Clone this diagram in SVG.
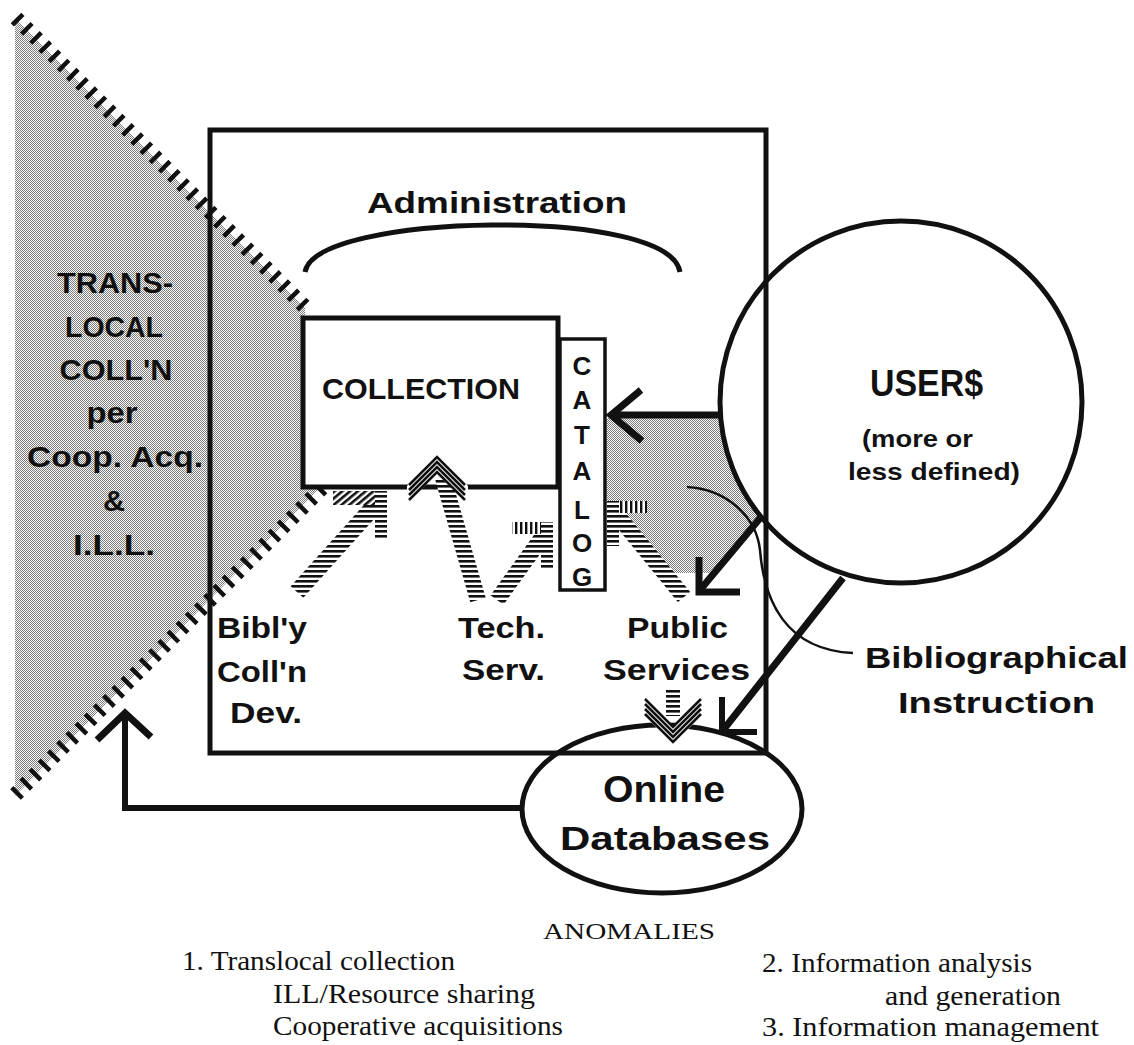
<svg xmlns="http://www.w3.org/2000/svg" width="1134" height="1045" viewBox="0 0 1134 1045">
<style>
.ln{fill:none;stroke:#111;stroke-linejoin:miter}
.t{font-family:"Liberation Sans",Arial,sans-serif;font-weight:bold;fill:#111}
.s{font-family:"Liberation Serif","Times New Roman",serif;fill:#111}
.hatch{fill:none;stroke:#111;stroke-width:15;stroke-dasharray:4.5 8.5}
.nest{fill:none;stroke:#111;stroke-width:2.6}
</style>
<defs>
<pattern id="dot" width="2" height="2" patternUnits="userSpaceOnUse"><rect width="2" height="2" fill="#fff"/><rect width="1" height="1" fill="#7a7a7a"/><rect x="1" y="1" width="1" height="1" fill="#7a7a7a"/></pattern>
<pattern id="hs" width="5" height="5" patternUnits="userSpaceOnUse"><rect width="5" height="5" fill="#fff"/><rect width="5" height="2.6" fill="#111"/></pattern>
<pattern id="vs" width="5" height="5" patternUnits="userSpaceOnUse"><rect width="5" height="5" fill="#fff"/><rect width="2.4" height="5" fill="#111"/></pattern>
<pattern id="ds" width="5" height="5" patternUnits="userSpaceOnUse" patternTransform="rotate(-40)"><rect width="5" height="5" fill="#fff"/><rect width="5" height="2.6" fill="#111"/></pattern>
</defs>

<!-- shaded regions -->
<g id="translocal">
<polygon points="15,18 305,308 305,488 320,488 15,796" fill="url(#dot)"/>
</g>
<g id="users-shade">
<path d="M607,418 L720,418 A181,181 0 0 0 761,517 L713,573 L660,573 L607,505 Z" fill="url(#dot)"/>
</g>

<!-- library frame -->
<g id="library"><rect x="210" y="130" width="556" height="623" class="ln" stroke-width="5"/></g>

<!-- hatched boundary of translocal collection -->
<g id="translocal-edge">
<line x1="16" y1="18" x2="308" y2="310" class="hatch"/>
<line x1="322" y1="488" x2="14" y2="796" class="hatch"/>
</g>

<g id="translocal-label" class="t" font-size="30" text-anchor="middle">
<text x="115" y="293" textLength="116" lengthAdjust="spacingAndGlyphs">TRANS-</text>
<text x="114" y="337" textLength="98" lengthAdjust="spacingAndGlyphs">LOCAL</text>
<text x="116" y="380" textLength="113" lengthAdjust="spacingAndGlyphs">COLL'N</text>
<text x="112" y="423" textLength="51" lengthAdjust="spacingAndGlyphs">per</text>
<text x="115" y="467" textLength="176" lengthAdjust="spacingAndGlyphs">Coop. Acq.</text>
<text x="114" y="511" textLength="22" lengthAdjust="spacingAndGlyphs">&amp;</text>
<text x="114" y="555" textLength="82" lengthAdjust="spacingAndGlyphs">I.L.L.</text>
</g>

<g id="administration">
<path d="M305,272 C310,242 400,226 492,225 C590,224 675,240 680,272" class="ln" stroke-width="5"/>
<text x="367" y="213" class="t" font-size="30" textLength="260" lengthAdjust="spacingAndGlyphs">Administration</text>
</g>

<g id="collection">
<rect x="303" y="318" width="255" height="169" fill="#fff" stroke="#111" stroke-width="5"/>
<text x="322" y="399" class="t" font-size="30" textLength="198" lengthAdjust="spacingAndGlyphs">COLLECTION</text>
</g>

<g id="catalog">
<rect x="560" y="339" width="45" height="251" fill="#fff" stroke="#111" stroke-width="3.5"/>
<g class="t" font-size="26" text-anchor="middle">
<text x="582" y="375">C</text><text x="582" y="409">A</text><text x="582" y="444">T</text><text x="582" y="480">A</text><text x="582" y="519">L</text><text x="582" y="552">O</text><text x="582" y="586">G</text>
</g>
</g>

<g id="users">
<circle cx="901" cy="402" r="181" class="ln" stroke-width="5"/>
<text x="870" y="396" class="t" font-size="37" textLength="113" lengthAdjust="spacingAndGlyphs">USER$</text>
<text x="862" y="447" class="t" font-size="24" textLength="111" lengthAdjust="spacingAndGlyphs">(more or</text>
<text x="848" y="480" class="t" font-size="24" textLength="172" lengthAdjust="spacingAndGlyphs">less defined)</text>
</g>

<g id="online-databases">
<ellipse cx="662" cy="809" rx="140" ry="84" class="ln" stroke-width="5"/>
<text x="603" y="802" class="t" font-size="36" textLength="122" lengthAdjust="spacingAndGlyphs">Online</text>
<text x="560" y="850" class="t" font-size="33" textLength="210" lengthAdjust="spacingAndGlyphs">Databases</text>
</g>

<g id="bibliography-dev">
<text x="217" y="638" class="t" font-size="29" textLength="90" lengthAdjust="spacingAndGlyphs">Bibl'y</text>
<text x="217" y="682" class="t" font-size="29" textLength="90" lengthAdjust="spacingAndGlyphs">Coll'n</text>
<text x="230" y="723" class="t" font-size="29" textLength="72" lengthAdjust="spacingAndGlyphs">Dev.</text>
</g>
<g id="tech-serv">
<text x="458" y="638" class="t" font-size="29" textLength="87" lengthAdjust="spacingAndGlyphs">Tech.</text>
<text x="462" y="680" class="t" font-size="29" textLength="83" lengthAdjust="spacingAndGlyphs">Serv.</text>
</g>
<g id="public-services">
<text x="627" y="638" class="t" font-size="29" textLength="101" lengthAdjust="spacingAndGlyphs">Public</text>
<text x="603" y="680" class="t" font-size="29" textLength="147" lengthAdjust="spacingAndGlyphs">Services</text>
</g>
<g id="bibliographical-instruction">
<text x="865" y="668" class="t" font-size="29" textLength="263" lengthAdjust="spacingAndGlyphs">Bibliographical</text>
<text x="898" y="713" class="t" font-size="29" textLength="197" lengthAdjust="spacingAndGlyphs">Instruction</text>
</g>

<g id="connectors">
<!-- users to catalog -->
<line x1="720" y1="415" x2="612" y2="415" class="ln" stroke-width="7"/>
<polyline points="641,390 611,415 642,441" class="ln" stroke-width="7"/>
<!-- users to public services -->
<line x1="761" y1="517" x2="700" y2="590" class="ln" stroke-width="7"/>
<polyline points="699,557 699,592 740,592" class="ln" stroke-width="7"/>
<!-- users to online databases -->
<line x1="843" y1="578" x2="724" y2="729" class="ln" stroke-width="7"/>
<polyline points="722,697 722,732 757,732" class="ln" stroke-width="6"/>
<!-- bibliographical instruction leader -->
<path d="M687,487 C725,489 756,515 760,550 C764,600 785,650 853,653" class="ln" stroke-width="2.5"/>
<!-- online databases to translocal -->
<polyline points="522,808 125,808 125,716" class="ln" stroke-width="6"/>
<polyline points="97,740 125,713 151,737" class="ln" stroke-width="7"/>

<!-- hatched: bibl'y to collection -->
<line x1="297" y1="592" x2="378" y2="502" stroke="url(#hs)" stroke-width="17"/>
<rect x="333" y="491" width="54" height="14" fill="url(#ds)"/>
<rect x="375" y="491" width="12" height="49" fill="url(#hs)"/>
<!-- hatched: tech to collection -->
<line x1="478" y1="600" x2="443" y2="478" stroke="url(#hs)" stroke-width="16"/>
<polygon points="437,455 468,486 468,503 437,474 407,503 407,486" fill="#fff"/>
<polyline points="409,485 437,457 465,485" class="nest"/>
<polyline points="409,490 437,462 465,490" class="nest"/>
<polyline points="409,495 437,467 465,495" class="nest"/>
<polyline points="409,500 437,472 465,500" class="nest"/>
<!-- hatched: tech to catalog -->
<line x1="497" y1="600" x2="546" y2="532" stroke="url(#hs)" stroke-width="16"/>
<rect x="512" y="522" width="41" height="12" fill="url(#vs)"/>
<rect x="541" y="522" width="12" height="48" fill="url(#hs)"/>
<!-- hatched: public services to catalog -->
<line x1="684" y1="597" x2="617" y2="515" stroke="url(#hs)" stroke-width="16"/>
<rect x="607" y="501" width="40" height="12" fill="url(#vs)"/>
<rect x="607" y="501" width="12" height="45" fill="url(#hs)"/>
<!-- hatched: public services to online databases -->
<rect x="666" y="688" width="14" height="28" fill="url(#hs)"/>
<polygon points="673,744 704,713 704,698 673,727 642,698 642,713" fill="#fff"/>
<polyline points="645,714 673,742 701,714" class="nest"/>
<polyline points="645,709 673,737 701,709" class="nest"/>
<polyline points="645,704 673,732 701,704" class="nest"/>
<polyline points="645,699 673,727 701,699" class="nest"/>
</g>

<g id="anomalies" class="s">
<text x="543" y="939" font-size="24" textLength="172" lengthAdjust="spacingAndGlyphs">ANOMALIES</text>
<text x="182" y="970" font-size="28" textLength="273" lengthAdjust="spacingAndGlyphs">1. Translocal collection</text>
<text x="273" y="1003" font-size="28" textLength="262" lengthAdjust="spacingAndGlyphs">ILL/Resource sharing</text>
<text x="273" y="1035" font-size="28" textLength="290" lengthAdjust="spacingAndGlyphs">Cooperative acquisitions</text>
<text x="762" y="972" font-size="28" textLength="270" lengthAdjust="spacingAndGlyphs">2. Information analysis</text>
<text x="885" y="1005" font-size="28" textLength="176" lengthAdjust="spacingAndGlyphs">and generation</text>
<text x="762" y="1036" font-size="28" textLength="337" lengthAdjust="spacingAndGlyphs">3. Information management</text>
</g>
</svg>
